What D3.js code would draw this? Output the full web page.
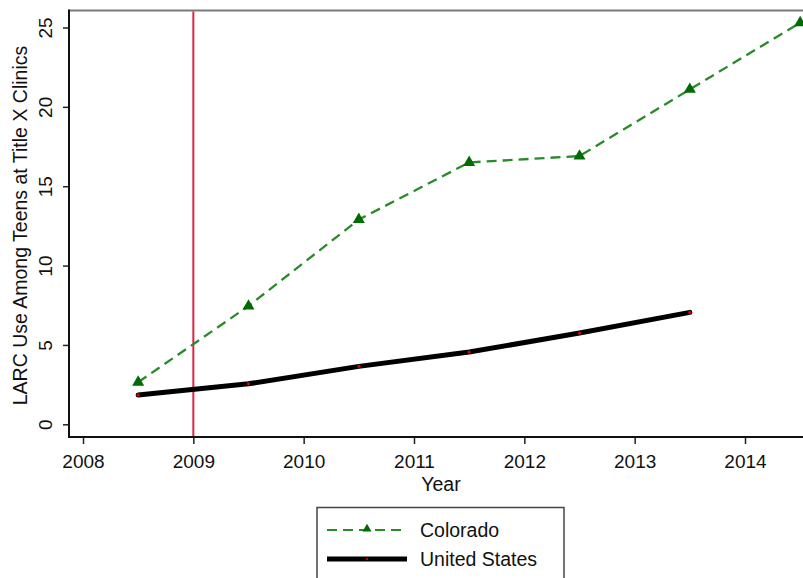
<!DOCTYPE html>
<html>
<head>
<meta charset="utf-8">
<script src="https://cdn.jsdelivr.net/npm/d3@7"></script>
<style>
  html, body { margin: 0; padding: 0; background: #fff; }
  svg { display: block; font-family: "Liberation Sans", Arial, Helvetica, sans-serif; }
</style>
</head>
<body>
<svg id="chart" width="803" height="578"></svg>
<script>
// Survey years (mid-year points) and LARC use among teens (%)
const coloradoYears = [2008.5, 2009.5, 2010.5, 2011.5, 2012.5, 2013.5, 2014.5];
const coloradoValues = [2.65, 7.45, 12.9, 16.5, 16.9, 21.1, 25.3];
const usYears = [2008.5, 2009.5, 2010.5, 2011.5, 2012.5, 2013.5];
const usValues = [1.85, 2.55, 3.65, 4.55, 5.75, 7.05];
const xTicks = [2008, 2009, 2010, 2011, 2012, 2013, 2014];
const yTicks = [0, 5, 10, 15, 20, 25];
const policyYear = 2009;
const seriesNames = ["Colorado", "United States"];

const svg = d3.select("#chart");
const tickFont = 19;
const labelFont = 19.5;

const plot = { left: 69, top: 10.5, bottom: 437, right: 812 };

const x = d3.scaleLinear().domain([2008, 2014]).range([83, 745]);
const y = d3.scaleLinear().domain([0, 25]).range([424.3, 27.5]);

const colorado = coloradoYears.map((yr, i) => ({ x: yr, y: coloradoValues[i] }));
const us = usYears.map((yr, i) => ({ x: yr, y: usValues[i] }));

// Top frame line (grey), left and bottom axis lines (black)
svg.append("line")
  .attr("x1", plot.left).attr("x2", plot.right)
  .attr("y1", plot.top).attr("y2", plot.top)
  .attr("stroke", "#7a7a7a").attr("stroke-width", 2);

// Y axis
const yAxis = d3.axisLeft(y).tickValues(yTicks).tickSize(6).tickFormat(d3.format("d"));
const gy = svg.append("g").attr("transform", `translate(${plot.left},0)`).call(yAxis);
gy.select(".domain").remove();
gy.selectAll(".tick line").attr("stroke", "#222").attr("stroke-width", 1.5);
gy.selectAll(".tick text")
  .attr("x", null).attr("dy", null)
  .attr("transform", "translate(-17.5,0) rotate(-90)")
  .attr("text-anchor", "middle")
  .attr("font-size", tickFont)
  .attr("fill", "#111");

// X axis
const xAxis = d3.axisBottom(x).tickValues(xTicks).tickSize(7).tickFormat(d3.format("d"));
const gx = svg.append("g").attr("transform", `translate(0,${plot.bottom})`).call(xAxis);
gx.select(".domain").remove();
gx.selectAll(".tick line").attr("stroke", "#222").attr("stroke-width", 1.5);
gx.selectAll(".tick text")
  .attr("y", 31).attr("dy", null)
  .attr("font-size", tickFont)
  .attr("fill", "#111");

svg.append("line")
  .attr("x1", plot.left).attr("x2", plot.left)
  .attr("y1", plot.top - 1).attr("y2", plot.bottom + 1)
  .attr("stroke", "#111").attr("stroke-width", 2);
svg.append("line")
  .attr("x1", plot.left - 1).attr("x2", plot.right)
  .attr("y1", plot.bottom).attr("y2", plot.bottom)
  .attr("stroke", "#111").attr("stroke-width", 2);

// Axis titles
svg.append("text")
  .attr("x", 441).attr("y", 490.5)
  .attr("text-anchor", "middle")
  .attr("font-size", labelFont).attr("fill", "#111")
  .text("Year");

svg.append("text")
  .attr("transform", "translate(27,225.5) rotate(-90)")
  .attr("text-anchor", "middle")
  .attr("font-size", labelFont).attr("fill", "#111")
  .text("LARC Use Among Teens at Title X Clinics");

// Policy start marker
svg.append("line")
  .attr("x1", x(policyYear)).attr("x2", x(policyYear))
  .attr("y1", plot.top + 1).attr("y2", plot.bottom - 1)
  .attr("stroke", "#dc2446").attr("stroke-width", 2);

const line = d3.line().x(d => x(d.x)).y(d => y(d.y));

// Triangle marker centred on its point
function triangle(cx, cy, s) {
  const h = s * Math.sqrt(3) / 2;
  return `M${cx},${cy - 2 * h / 3}L${cx + s / 2},${cy + h / 3}L${cx - s / 2},${cy + h / 3}Z`;
}

const green = "#2a8a2a";
const darkGreen = "#006b00";

// Colorado series
svg.append("path")
  .datum(colorado)
  .attr("d", line)
  .attr("fill", "none")
  .attr("stroke", green)
  .attr("stroke-width", 2.3)
  .attr("stroke-dasharray", "10,6");

svg.append("g").selectAll("path")
  .data(colorado)
  .join("path")
  .attr("d", d => triangle(x(d.x), y(d.y), 12))
  .attr("fill", darkGreen);

// United States series
svg.append("path")
  .datum(us)
  .attr("d", line)
  .attr("fill", "none")
  .attr("stroke", "#000")
  .attr("stroke-width", 5)
  .attr("stroke-linecap", "round")
  .attr("stroke-linejoin", "round");

svg.append("g").selectAll("circle")
  .data(us)
  .join("circle")
  .attr("cx", d => x(d.x))
  .attr("cy", d => y(d.y))
  .attr("r", 1.6)
  .attr("fill", "#e00000");

// Legend
const legend = svg.append("g");
legend.append("rect")
  .attr("x", 317).attr("y", 507.5)
  .attr("width", 247).attr("height", 90)
  .attr("fill", "#fff")
  .attr("stroke", "#444").attr("stroke-width", 1.5);

legend.append("line")
  .attr("x1", 327).attr("x2", 407).attr("y1", 530).attr("y2", 530)
  .attr("stroke", green).attr("stroke-width", 2.2)
  .attr("stroke-dasharray", "10,6");
legend.append("path")
  .attr("d", triangle(367, 529, 9))
  .attr("fill", darkGreen);
legend.append("text")
  .attr("x", 420).attr("y", 536.5)
  .attr("font-size", labelFont).attr("fill", "#111")
  .text(seriesNames[0]);

legend.append("line")
  .attr("x1", 327).attr("x2", 407).attr("y1", 559).attr("y2", 559)
  .attr("stroke", "#000").attr("stroke-width", 5);
legend.append("circle")
  .attr("cx", 367).attr("cy", 559).attr("r", 1.2)
  .attr("fill", "#c00000");
legend.append("text")
  .attr("x", 420).attr("y", 566)
  .attr("font-size", labelFont).attr("fill", "#111")
  .text(seriesNames[1]);
</script>
</body>
</html>
